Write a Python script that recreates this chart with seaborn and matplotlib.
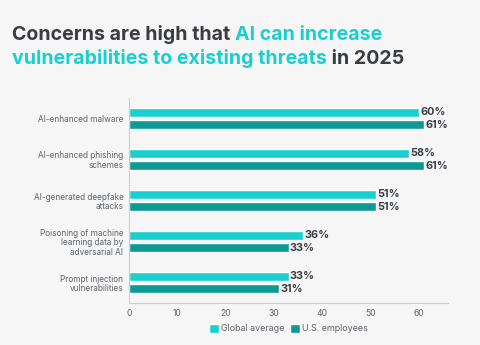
import matplotlib
matplotlib.use("Agg")
import matplotlib.pyplot as plt
import seaborn as sns
import pandas as pd

categories = [
    "AI-enhanced malware",
    "AI-enhanced phishing\nschemes",
    "AI-generated deepfake\nattacks",
    "Poisoning of machine\nlearning data by\nadversarial AI",
    "Prompt injection\nvulnerabilities",
]
global_avg = [60, 58, 51, 36, 33]
us_employees = [61, 61, 51, 33, 31]
series_names = ["Global average", "U.S. employees"]
x_ticks = [0, 10, 20, 30, 40, 50, 60]

BG = "#f6f6f6"
C_GLOBAL = "#1ccfcf"
C_US = "#0e9994"
DARK = "#3a3d42"
GRAY = "#5f6368"

sns.set_theme(style="white")
plt.rcParams["font.family"] = ["Inter", "DejaVu Sans"]

df = pd.DataFrame({
    "category": categories * 2,
    "value": global_avg + us_employees,
    "series": [series_names[0]] * len(categories) + [series_names[1]] * len(categories),
})

fig = plt.figure(figsize=(4.8, 3.45), dpi=100, facecolor=BG)
ax = fig.add_axes([129 / 480, 1 - 303 / 345, (448 - 129) / 480, (303 - 98) / 345])
ax.set_facecolor(BG)

sns.barplot(data=df, y="category", x="value", hue="series", orient="h",
            palette=[C_GLOBAL, C_US], width=0.6, gap=0.28, ax=ax, saturation=1,
            legend=True)

for cont in ax.containers:
    ax.bar_label(cont, fmt="%d%%", padding=1, fontsize=7.8, fontweight="bold", color=DARK)

ax.set_xlim(0, 66)
ax.set_ylim(4.5, -0.5)
ax.set_xticks(x_ticks)
ax.set_xlabel("")
ax.set_ylabel("")
for s in ["top", "right"]:
    ax.spines[s].set_visible(False)
for s in ["left", "bottom"]:
    ax.spines[s].set_color("#cfcfcf")
    ax.spines[s].set_linewidth(0.8)
ax.tick_params(axis="x", labelsize=6.2, labelcolor=GRAY, length=2.5, color="#cfcfcf", pad=2)
ax.tick_params(axis="y", labelsize=5.9, labelcolor=GRAY, length=2, color="#cfcfcf", pad=2)
for lbl in ax.get_yticklabels():
    lbl.set_linespacing(1.1)

leg = ax.legend(loc="upper center", bbox_to_anchor=(0.5, -0.085), ncol=2, frameon=False,
                fontsize=6.4, handlelength=1.1, handleheight=1.1, handletextpad=0.3,
                columnspacing=0.6, borderaxespad=0)
for t in leg.get_texts():
    t.set_color(GRAY)

# two-colour title
tsize = 14.1
t1 = fig.text(12 / 480, 1 - 40 / 345, "Concerns are high that ", fontsize=tsize,
              fontweight="bold", color=DARK, ha="left", va="baseline")
t2 = ax.annotate("AI can increase", xy=(1, 0), xycoords=t1, fontsize=tsize,
                 fontweight="bold", color=C_GLOBAL, ha="left", va="bottom",
                 annotation_clip=False)
t3 = fig.text(12 / 480, 1 - 64 / 345, "vulnerabilities to existing threats", fontsize=tsize,
              fontweight="bold", color=C_GLOBAL, ha="left", va="baseline")
t4 = ax.annotate(" in 2025", xy=(1, 0), xycoords=t3, fontsize=tsize,
                 fontweight="bold", color=DARK, ha="left", va="bottom",
                 annotation_clip=False)

fig.savefig("out.png", dpi=100, facecolor=BG)
